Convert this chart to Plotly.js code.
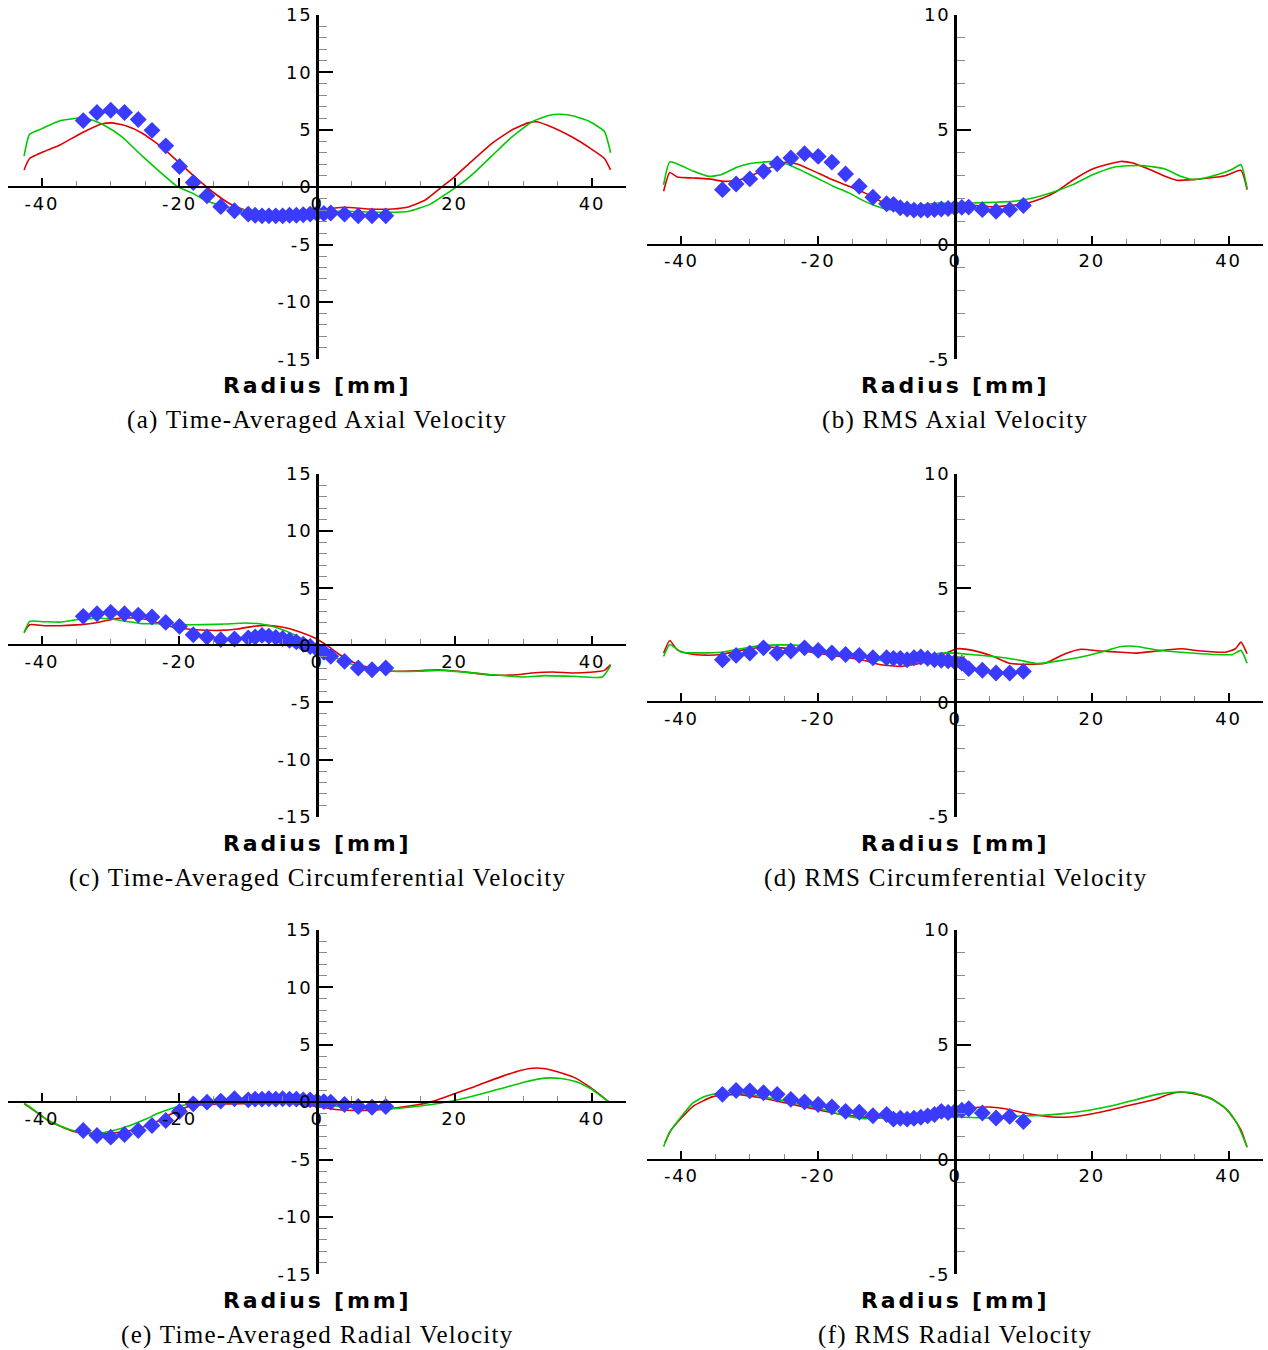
<!DOCTYPE html>
<html>
<head>
<meta charset="utf-8">
<script src="https://cdn.plot.ly/plotly-3.0.1.min.js"></script>
<style>
html,body{margin:0;padding:0;background:#ffffff;}
#chart{width:1268px;height:1350px;}
</style>
</head>
<body>
<div id="chart"></div>
<script>
// ---------- tick labels ----------
const xTicks = [-40, -20, 0, 20, 40];
const yTicksMean = [-15, -10, -5, 0, 5, 10, 15];
const yTicksRms = [-5, 0, 5, 10];
const axisTitle = 'Radius [mm]';
const captions = [
  '(a) Time-Averaged Axial Velocity',
  '(b) RMS Axial Velocity',
  '(c) Time-Averaged Circumferential Velocity',
  '(d) RMS Circumferential Velocity',
  '(e) Time-Averaged Radial Velocity',
  '(f) RMS Radial Velocity'
];

// ---------- experimental points (blue diamonds) ----------
const expR = [-34,-32,-30,-28,-26,-24,-22,-20,-18,-16,-14,-12,-10,-9,-8,-7,-6,-5,-4,-3,-2,-1,0,1,2,4,6,8,10];
const aExp = [5.8,6.5,6.7,6.5,5.9,4.95,3.6,1.8,0.4,-0.75,-1.7,-2.05,-2.35,-2.45,-2.5,-2.5,-2.5,-2.5,-2.45,-2.45,-2.4,-2.35,-2.3,-2.3,-2.25,-2.35,-2.5,-2.5,-2.5];
const bExp = [2.39,2.64,2.86,3.19,3.52,3.77,3.96,3.84,3.59,3.07,2.54,2.06,1.78,1.75,1.6,1.55,1.5,1.5,1.5,1.52,1.55,1.57,1.6,1.62,1.63,1.52,1.45,1.52,1.7];
const cExp = [2.54,2.77,2.89,2.77,2.65,2.48,2.01,1.66,0.93,0.73,0.5,0.55,0.64,0.73,0.87,0.8,0.7,0.6,0.45,0.3,0.1,-0.1,-0.35,-0.6,-0.96,-1.4,-1.98,-2.13,-1.98];
const dExp = [1.87,2.06,2.16,2.39,2.16,2.25,2.39,2.28,2.17,2.1,2.06,1.96,1.96,1.93,1.93,1.87,1.96,1.99,1.93,1.87,1.85,1.82,1.77,1.72,1.48,1.41,1.29,1.29,1.36];
const eExp = [-2.47,-2.9,-3.05,-2.82,-2.47,-2.03,-1.6,-0.8,-0.15,0,0.09,0.29,0.2,0.26,0.26,0.3,0.26,0.3,0.26,0.26,0.2,0.2,0.1,0.05,0,-0.2,-0.38,-0.44,-0.38];
const fExp = [2.84,3.01,2.99,2.91,2.84,2.62,2.51,2.4,2.29,2.1,2.06,1.91,1.96,1.76,1.8,1.76,1.8,1.84,1.9,1.96,2.1,2.05,2.1,2.15,2.21,2.03,1.81,1.88,1.66];

// ---------- simulation curves (red / green) ----------
const aRedX = [-42.6,-41.8,-37.3,-34.3,-31.3,-29.9,-27.8,-25.4,-22.4,-20,-17.6,-15.2,-12.8,-10.4,-7.5,-4.5,0,3.9,7.5,11,13.4,15.8,17.9,20,22.4,25.4,28.4,30.7,31.9,33.7,37.3,39.7,41.8,42.7];
const aRedY = [1.5,2.5,3.7,4.7,5.5,5.6,5.35,4.7,3.4,2.1,0.8,-0.4,-1.4,-2.0,-2.2,-2.2,-2.0,-1.75,-1.9,-1.9,-1.7,-1.1,-0.1,0.9,2.2,3.8,5.0,5.6,5.7,5.35,4.3,3.4,2.5,1.5];
const aGreenX = [-42.6,-41.8,-40,-37.3,-35,-34.3,-32.5,-30.7,-28.4,-25.4,-22.4,-20.3,-18.2,-16.4,-14,-10.4,-7.5,0,4.5,10.4,13.4,16.4,18.5,20,22.4,25.4,28.4,31.3,33.7,35.5,37.3,39.7,41.8,42.7];
const aGreenY = [2.7,4.6,5.1,5.8,6.0,6.05,5.8,5.3,4.4,2.7,1.1,0.05,-0.5,-1.1,-1.6,-2.0,-2.2,-2.1,-2.1,-2.2,-2.1,-1.5,-0.7,-0.1,1.0,2.7,4.4,5.7,6.25,6.35,6.2,5.7,4.85,3.0];

const bRedX = [-42.6,-41.7,-40.6,-38.3,-36,-33.6,-31.3,-28.9,-26.5,-24.8,-23.1,-20.8,-18.5,-15.5,-13.2,-10.8,-8.5,-5,-1.5,0.9,3.2,5.6,7.9,10.2,12.6,14.9,17.2,20.1,22.5,24.2,26,28.3,30.7,32.4,34.8,37.1,39.5,41.8,42.7];
const bRedY = [2.32,3.14,2.94,2.9,2.86,2.75,2.83,3.12,3.41,3.58,3.51,3.22,2.9,2.54,2.25,1.88,1.7,1.64,1.7,1.72,1.7,1.64,1.7,1.78,1.99,2.32,2.8,3.29,3.51,3.62,3.55,3.29,2.97,2.8,2.83,2.9,3.0,3.23,2.39];
const bGreenX = [-42.6,-41.7,-40,-38.3,-36,-34.2,-31.8,-30.1,-27.8,-26,-24.3,-22.5,-20.2,-17.8,-15.5,-13.2,-10.8,-9.6,-7.3,-5,-2.6,0,2.6,5.6,8.5,11.4,14.3,17.2,20.1,23.1,25.4,27.7,30.7,33,34.8,36.5,38.9,40.6,41.8,42.7];
const bGreenY = [2.6,3.6,3.43,3.2,2.97,3.04,3.38,3.52,3.6,3.62,3.48,3.23,2.9,2.54,2.25,1.88,1.6,1.52,1.58,1.7,1.81,1.78,1.81,1.84,1.88,2.03,2.28,2.61,3.04,3.36,3.43,3.43,3.29,2.97,2.83,2.9,3.09,3.29,3.48,2.46];

const cRedX = [-42.6,-41.8,-39.7,-37.3,-34.3,-31.9,-30.1,-28.4,-26.6,-24.2,-22.4,-20,-17.6,-14,-11.6,-9.3,-7.5,-5.1,-2.7,-0.3,1.5,3.3,5.7,8.7,11,14.6,17.6,20.6,25.4,29,31.3,34.3,37.3,39.7,41.8,42.7];
const cRedY = [1.14,1.81,1.72,1.72,1.81,2.0,2.24,2.39,2.39,2.19,1.81,1.52,1.37,1.31,1.43,1.66,1.75,1.6,1.22,0.64,-0.03,-0.82,-1.6,-2.07,-2.27,-2.22,-2.13,-2.27,-2.6,-2.57,-2.42,-2.33,-2.42,-2.36,-2.19,-1.69];
const cGreenX = [-42.6,-41.8,-39.7,-37.3,-35,-32.5,-30.1,-27.8,-25.4,-22.4,-20,-16.4,-13.4,-10.4,-8.1,-5.7,-3.3,-1.5,0,1.5,3.3,5.7,8.7,11,14.6,17.6,20.6,25.4,30.1,33.1,37.3,41.5,42.7];
const cGreenY = [1.08,2.1,2.07,2.04,2.24,2.36,2.33,2.1,1.9,1.9,1.81,1.81,1.87,1.95,1.87,1.52,0.93,0.35,-0.09,-0.67,-1.25,-1.78,-2.13,-2.27,-2.27,-2.19,-2.3,-2.57,-2.77,-2.65,-2.71,-2.77,-1.78];

const dRedX = [-42.6,-41.7,-40.6,-38.8,-36.5,-34.2,-31.3,-28.4,-25.4,-22.5,-19.6,-16.7,-13.7,-10.8,-7.9,-5,-2.6,0.3,2.6,5.6,7.9,10.8,13.2,16.1,18.4,21.3,24.3,26.6,29.5,33,36,39.5,41,41.8,42.7];
const dRedY = [2.16,2.71,2.3,2.13,2.07,2.1,2.28,2.42,2.39,2.28,2.13,2.01,1.87,1.65,1.58,1.72,1.99,2.35,2.28,2.01,1.72,1.67,1.72,2.13,2.33,2.25,2.2,2.16,2.25,2.35,2.25,2.2,2.35,2.64,2.13];
const dGreenX = [-42.6,-41.7,-40,-37.1,-34.2,-31.3,-28.4,-25.4,-22.5,-19.6,-16.7,-13.7,-10.8,-7.9,-5,-2,0,2.6,5.6,9.1,12,14.9,18.4,21.3,24.3,26.6,29.5,33,36,38.9,40.6,41.8,42.7];
const dGreenY = [2.01,2.54,2.2,2.17,2.2,2.35,2.49,2.52,2.49,2.3,2.13,1.99,1.84,1.81,1.99,2.16,2.16,2.09,2.01,1.87,1.7,1.81,1.99,2.2,2.45,2.45,2.3,2.2,2.13,2.09,2.1,2.28,1.72];

const eRedX = [-42.6,-41.8,-39.1,-35.5,-31.9,-28.4,-25.4,-22.4,-20.6,-18.2,-13.4,-4.5,0,2.7,5.7,8.7,11.6,14.6,17,20,23,26.6,29.6,31.9,34.3,37.3,39.7,41.5,42.5];
const eRedY = [-0.15,-0.45,-1.6,-2.53,-2.8,-2.6,-2.2,-1.45,-0.8,-0.3,-0.15,-0.1,-0.38,-0.64,-0.73,-0.67,-0.5,-0.23,0.09,0.73,1.37,2.18,2.76,2.97,2.76,2.18,1.31,0.49,0];
const eGreenX = [-42.6,-41.8,-39.1,-35.5,-31.9,-29.6,-27.2,-24.8,-23.3,-20.6,-18.8,-16.4,-10.4,0,3.3,5.7,10.4,13.4,16.4,20,23,26.6,30.1,33.1,35.5,37.9,40,41.5,42.5];
const eGreenY = [-0.1,-0.4,-1.6,-2.47,-2.7,-2.47,-2.03,-1.45,-1.02,-0.44,-0.2,-0.1,0,-0.1,-0.38,-0.5,-0.58,-0.44,-0.23,0.15,0.58,1.16,1.74,2.09,2.06,1.74,1.1,0.44,0];

const fRedX = [-42.4,-41.5,-40,-38.3,-35.4,-31.9,-28.4,-24.9,-21.3,-17.8,-14.3,-10.8,-6.1,-1.5,2,5,7.3,10.2,12.6,15.5,18.4,21.9,25.4,28.9,31.3,33,35.4,37.7,40,41.8,42.7];
const fRedY = [0.74,1.29,1.81,2.32,2.74,2.84,2.69,2.47,2.25,2.03,1.88,1.81,1.88,1.96,2.25,2.29,2.21,2.03,1.91,1.84,1.91,2.1,2.35,2.59,2.84,2.94,2.84,2.62,2.1,1.29,0.53];
const fGreenX = [-42.6,-41.8,-40,-38.3,-36.5,-34.8,-31.9,-29,-26,-22.5,-19.6,-16.1,-13.2,-9.6,-5,-1.5,0.9,4.4,7.9,11.4,15.5,19.6,23.1,26.6,29.5,32.5,34.8,37.1,39.5,41.2,42.7];
const fGreenY = [0.56,1.15,1.88,2.47,2.76,2.88,2.91,2.79,2.62,2.4,2.21,1.91,1.78,1.84,1.88,1.88,1.85,1.81,1.88,1.91,1.99,2.15,2.35,2.62,2.84,2.94,2.91,2.69,2.25,1.59,0.56];

// ---------- panel definitions ----------
const panels = [
  {col:0,row:0,yRange:[-15,15],yTicks:yTicksMean,red:[aRedX,aRedY],green:[aGreenX,aGreenY],exp:aExp},
  {col:1,row:0,yRange:[-5,10], yTicks:yTicksRms, red:[bRedX,bRedY],green:[bGreenX,bGreenY],exp:bExp},
  {col:0,row:1,yRange:[-15,15],yTicks:yTicksMean,red:[cRedX,cRedY],green:[cGreenX,cGreenY],exp:cExp},
  {col:1,row:1,yRange:[-5,10], yTicks:yTicksRms, red:[dRedX,dRedY],green:[dGreenX,dGreenY],exp:dExp},
  {col:0,row:2,yRange:[-15,15],yTicks:yTicksMean,red:[eRedX,eRedY],green:[eGreenX,eGreenY],exp:eExp},
  {col:1,row:2,yRange:[-5,10], yTicks:yTicksRms, red:[fRedX,fRedY],green:[fGreenX,fGreenY],exp:fExp}
];

// ---------- geometry (pixels) ----------
const W = 1268, H = 1350;
const colZero = [317, 955];
const colHalf = [309.4, 307.8];
const rowTop = [15, 474, 930];
const rowBot = [359.3, 816.7, 1274.3];
const titleY = [385, 843, 1300];
const captionY = [420, 878, 1335];

const RED = '#dd0000', GREEN = '#00c800', BLUE = '#3b3bff';
const tickFontFamily = 'DejaVu Sans, Liberation Sans, sans-serif';

function spaced(t, ls) {
  return '<span style="letter-spacing:' + ls + 'px">' + t + '</span>';
}

const traces = [];
const layout = {
  width: W, height: H,
  margin: {l:0, r:0, t:0, b:0, pad:0},
  paper_bgcolor: '#ffffff', plot_bgcolor: 'rgba(0,0,0,0)',
  showlegend: false,
  font: {family: tickFontFamily, color: '#000'},
  annotations: []
};

panels.forEach(function(p, i) {
  const sfx = i === 0 ? '' : String(i + 1);
  const xName = 'xaxis' + sfx, yName = 'yaxis' + sfx;
  const xRef = 'x' + sfx, yRef = 'y' + sfx;
  const z = colZero[p.col], h = colHalf[p.col];
  const top = rowTop[p.row], bot = rowBot[p.row];
  const yZeroPx = top + (bot - top) * (p.yRange[1] - 0) / (p.yRange[1] - p.yRange[0]);

  layout[xName] = {
    domain: [(z - h) / W, (z + h) / W],
    range: [-45, 45],
    anchor: 'free',
    position: 1 - yZeroPx / H,
    showline: true, linecolor: '#000', linewidth: 2,
    showgrid: false, zeroline: false,
    ticks: 'inside', ticklen: 8, tickwidth: 2, tickcolor: '#000',
    tickmode: 'array', tickvals: xTicks,
    ticktext: xTicks.map(function(v){ return spaced(String(v), 1.8); }),
    tickfont: {family: tickFontFamily, size: 18, color: '#000'},
    minor: {tickmode: 'linear', tick0: 0, dtick: 5, ticks: 'inside', ticklen: 5, tickwidth: 1, tickcolor: '#8a8a8a', showgrid: false},
    fixedrange: true
  };
  layout[yName] = {
    domain: [1 - bot / H, 1 - top / H],
    range: p.yRange,
    anchor: 'free',
    position: z / W,
    side: 'left',
    showline: true, linecolor: '#000', linewidth: 3,
    showgrid: false, zeroline: false,
    ticks: 'inside', ticklen: 14, tickwidth: 2, tickcolor: '#000',
    tickmode: 'array', tickvals: p.yTicks,
    ticktext: p.yTicks.map(function(v){ return spaced(String(v), 1.8); }),
    tickfont: {family: tickFontFamily, size: 18, color: '#000'},
    minor: {tickmode: 'linear', tick0: 0, dtick: 1, ticks: 'inside', ticklen: 8, tickwidth: 1, tickcolor: '#8a8a8a', showgrid: false},
    fixedrange: true
  };

  traces.push({
    type: 'scatter', mode: 'lines', x: p.red[0], y: p.red[1],
    xaxis: xRef, yaxis: yRef, line: {color: RED, width: 1.6, shape: 'spline', smoothing: 0.5},
    hoverinfo: 'skip'
  });
  traces.push({
    type: 'scatter', mode: 'lines', x: p.green[0], y: p.green[1],
    xaxis: xRef, yaxis: yRef, line: {color: GREEN, width: 1.6, shape: 'spline', smoothing: 0.5},
    hoverinfo: 'skip'
  });
  traces.push({
    type: 'scatter', mode: 'markers', x: expR, y: p.exp,
    xaxis: xRef, yaxis: yRef,
    marker: {symbol: 'diamond', size: 13, color: BLUE, line: {width: 0}},
    hoverinfo: 'skip'
  });

  layout.annotations.push({
    xref: 'paper', yref: 'paper', x: z / W, y: 1 - titleY[p.row] / H,
    xanchor: 'center', yanchor: 'middle', showarrow: false,
    text: spaced('<b>' + axisTitle + '</b>', 2.8),
    font: {family: 'DejaVu Sans, Liberation Sans, sans-serif', size: 22, color: '#000'}
  });
  layout.annotations.push({
    xref: 'paper', yref: 'paper', x: z / W, y: 1 - captionY[p.row] / H,
    xanchor: 'center', yanchor: 'middle', showarrow: false,
    text: spaced(captions[i], 1.3),
    font: {family: 'Liberation Serif, DejaVu Serif, serif', size: 25, color: '#000'}
  });
});

Plotly.newPlot('chart', traces, layout, {staticPlot: true, displayModeBar: false});
</script>
</body>
</html>
